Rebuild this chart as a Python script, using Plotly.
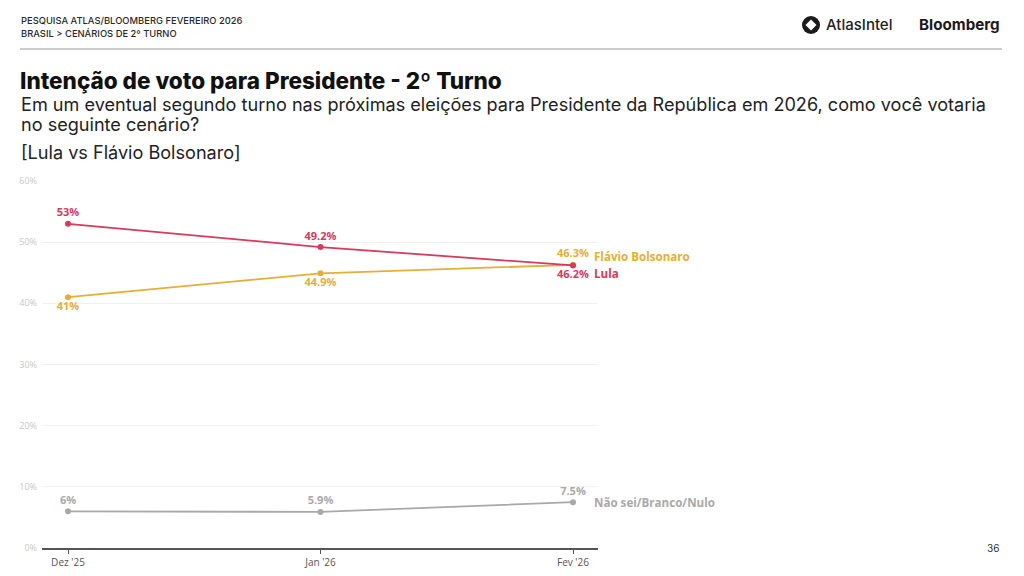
import plotly.graph_objects as go

months = ["Dez '25", "Jan '26", "Fev '26"]
lula = [53.0, 49.2, 46.2]
flavio = [41.0, 44.9, 46.3]
nulo = [6.0, 5.9, 7.5]
series_names = ["Lula", "Flávio Bolsonaro", "Não sei/Branco/Nulo"]
y_ticks = [0, 10, 20, 30, 40, 50, 60]

RED = "#d63a5c"
GOLD = "#e6ae35"
GRAY = "#a9a9a9"
LBL_FONT = "Open Sans"

W, H = 1024, 576
L, R, T, B = 42, 598, 181, 548


def px(x):
    return (x - L) / (R - L)


def py(y):
    return (B - y) / (B - T)


def fmt(v):
    return f"{v:g}%"


x_idx = list(range(len(months)))

fig = go.Figure()


def add_series(vals, color, positions):
    fig.add_trace(go.Scatter(
        x=x_idx, y=vals, mode="lines+markers+text",
        line=dict(color=color, width=1.8),
        marker=dict(color=color, size=6),
        text=[fmt(v) for v in vals],
        textposition=positions,
        textfont=dict(family=LBL_FONT, size=11, color=color, weight="bold"),
        showlegend=False, hoverinfo="skip", cliponaxis=False,
    ))


add_series(nulo, GRAY, ["top center", "top center", "top center"])
add_series(flavio, GOLD, ["bottom center", "bottom center", "top center"])
add_series(lula, RED, ["top center", "top center", "bottom center"])

# end labels
for name, vals, color, ysh in [
    (series_names[1], flavio, GOLD, 8),
    (series_names[0], lula, RED, -8),
    (series_names[2], nulo, GRAY, 0),
]:
    fig.add_annotation(x=x_idx[-1], y=vals[-1], xref="x", yref="y",
                       text=name, showarrow=False, xanchor="left",
                       yanchor="middle", xshift=19, yshift=ysh,
                       font=dict(family=LBL_FONT, size=11.6, color=color,
                                 weight="bold"))

HDR_FONT = "Inter"


def txt(x, y, s, size, color="#222222", weight="normal", xanchor="left",
        family=HDR_FONT):
    fig.add_annotation(x=px(x), y=py(y), xref="paper", yref="paper",
                       text=s, showarrow=False, xanchor=xanchor,
                       yanchor="middle",
                       font=dict(family=family, size=size, color=color,
                                 weight=weight))


txt(19, 20, "PESQUISA ATLAS/BLOOMBERG FEVEREIRO 2026", 9.4, "#2a2a2a", 500)
txt(19, 33, "BRASIL &gt; CENÁRIOS DE 2º TURNO", 9.4, "#2a2a2a", 500)
txt(18, 80, "Intenção de voto para Presidente - 2º Turno", 22.5, "#111111",
    800)
txt(19, 104, "Em um eventual segundo turno nas próximas eleições para "
    "Presidente da República em 2026, como você votaria", 18.1, "#222222")
txt(19, 124, "no seguinte cenário?", 18.1, "#222222")
txt(19, 152, "[Lula vs Flávio Bolsonaro]", 18.1, "#222222")
txt(824, 25, "AtlasIntel", 15, "#222222", 500)
txt(1002, 25, "Bloomberg", 15.2, "#1a1a1a", "bold", xanchor="right")
txt(1001, 548, "36", 10, "#333333", "normal", xanchor="right")

# header rule
fig.add_shape(type="line", xref="paper", yref="paper",
              x0=px(20), x1=px(1002), y0=py(49), y1=py(49),
              line=dict(color="#9a9a9a", width=1.2))

# AtlasIntel logo mark
cx, cy, r = 811, 25, 9
fig.add_shape(type="circle", xref="paper", yref="paper",
              x0=px(cx - r), x1=px(cx + r), y0=py(cy + r), y1=py(cy - r),
              fillcolor="#1a1a1a", line=dict(width=0))
d = 5.5
path = (f"M {px(cx)} {py(cy - d)} L {px(cx + d)} {py(cy)} "
        f"L {px(cx)} {py(cy + d)} L {px(cx - d)} {py(cy)} Z")
fig.add_shape(type="path", xref="paper", yref="paper", path=path,
              fillcolor="white", line=dict(width=0))

fig.update_layout(
    width=W, height=H,
    margin=dict(l=L, r=W - R, t=T, b=H - B, pad=0, autoexpand=False),
    paper_bgcolor="white", plot_bgcolor="white",
    xaxis=dict(
        range=[-0.103, 2.099], tickvals=x_idx, ticktext=months,
        showgrid=False, zeroline=False, showline=True,
        linecolor="#555555", linewidth=2,
        ticks="outside", ticklen=4, tickcolor="#555555", tickwidth=1,
        tickfont=dict(family=LBL_FONT, size=10, color="#555555"),
        fixedrange=True, automargin=False,
    ),
    yaxis=dict(
        range=[0, 60], tickvals=y_ticks,
        ticktext=[f"{v}%" for v in y_ticks],
        showgrid=True, gridcolor="#f0f0f0", gridwidth=1,
        zeroline=False, showline=False,
        tickfont=dict(family=LBL_FONT, size=9, color="#c8c8c8"),
        ticks="", ticklabelstandoff=4, fixedrange=True, automargin=False,
    ),
)

fig.write_html("out.html", config={"displayModeBar": False},
               post_script="document.body.style.margin='0';"
                           "document.body.style.overflow='hidden';")
